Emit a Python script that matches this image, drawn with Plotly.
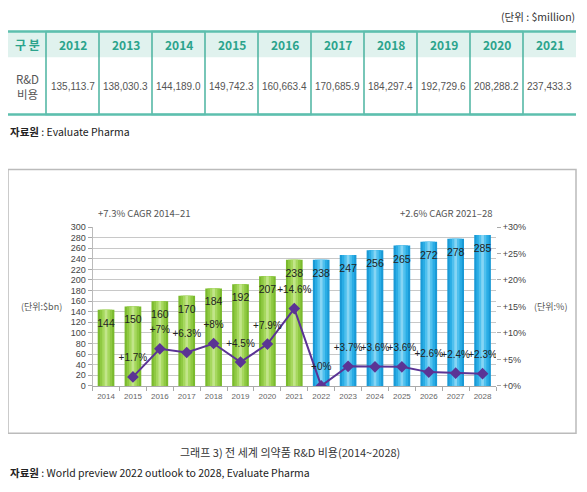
"""
Global pharma R&D spend: table (2012-2021) + bar/line chart (2014-2028)
"""

import plotly.graph_objects as go

# ---- data ----
table_years = ["2012", "2013", "2014", "2015", "2016", "2017", "2018", "2019", "2020", "2021"]
table_rd_million = [135113.7, 138030.3, 144189.0, 149742.3, 160663.4,
                    170685.9, 184297.4, 192729.6, 208288.2, 237433.3]

years = ["2014", "2015", "2016", "2017", "2018", "2019", "2020", "2021",
         "2022", "2023", "2024", "2025", "2026", "2027", "2028"]
rd_spend_bn = [144, 150, 160, 170, 184, 192, 207, 238, 238, 247, 256, 265, 272, 278, 285]
last_actual = "2021"

growth_years = years[1:]
growth_pct = [1.7, 7, 6.3, 8, 4.5, 7.9, 14.6, 0, 3.7, 3.6, 3.6, 2.6, 2.4, 2.3]

pct_ticks = [0, 5, 10, 15, 20, 25, 30]

# page is 587x492, the html body adds an 8px margin round the figure
PAGE_OFF = 8
W, H = 587 - 2 * PAGE_OFF, 492 - 2 * PAGE_OFF
# the page shot comes out a little squeezed vertically, compensate
Y_SCALE, Y_SHIFT = 0.98, 4.6
KR = "Noto Sans CJK KR, Noto Sans, sans-serif"
NUM = "Liberation Sans, Arial, sans-serif"
NARROW = "Liberation Sans Narrow, Arial Narrow, Liberation Sans, sans-serif"
TEAL = "#2ba38c"
TEAL_LINE = "#5dbfae"
PURPLE = "#5b3495"


def px(x):
    return (x - PAGE_OFF) / W


def py(y):
    return 1 - ((y - Y_SHIFT) / Y_SCALE - PAGE_OFF) / H


fig = go.Figure()

# ---- bars (layered for a cylinder look) ----
is_actual = [int(y) <= int(last_actual) for y in years]
green_layers = ["#7aba2d", "#8fc942", "#a6d85e", "#c2e58a"]
blue_layers = ["#1a9ad6", "#2aade5", "#4fc0ee", "#86d5f4"]
widths = [0.62, 0.46, 0.28, 0.1]
for i, w in enumerate(widths):
    fig.add_trace(go.Bar(
        x=years, y=rd_spend_bn, width=w,
        marker=dict(color=[green_layers[i] if a else blue_layers[i] for a in is_actual],
                    line=dict(width=0)),
        hoverinfo="skip" if i else "x+y",
        showlegend=False,
    ))

# bar value labels (invisible marker pushes the text below the bar top)
fig.add_trace(go.Scatter(
    x=years, y=rd_spend_bn, mode="markers+text",
    text=[str(v) for v in rd_spend_bn], textposition="bottom center",
    textfont=dict(size=10.5, color="#222222", family=NUM),
    marker=dict(size=13, opacity=0), hoverinfo="skip", showlegend=False,
))

# ---- growth line ----
fig.add_trace(go.Scatter(
    x=growth_years, y=growth_pct, yaxis="y2",
    mode="lines+markers",
    line=dict(color=PURPLE, width=2),
    marker=dict(symbol="diamond", size=9, color=PURPLE),
    showlegend=False,
))
fig.add_trace(go.Scatter(
    x=growth_years, y=growth_pct, yaxis="y2", mode="markers+text",
    text=[f"+{g:g}%" for g in growth_pct], textposition="top center",
    textfont=dict(size=10, color="#222222", family=NUM),
    marker=dict(size=19, opacity=0), hoverinfo="skip", showlegend=False,
))

annotations = []

# ---- table (header + one data row) ----
col_widths = [38] + [53] * len(table_years)
tbl_left, tbl_top, tbl_mid, tbl_bot = 8, 31, 56.7, 114
edges = [tbl_left]
for cw in col_widths:
    edges.append(edges[-1] + cw)
centers = [(a + b) / 2 for a, b in zip(edges[:-1], edges[1:])]

shapes = [
    dict(type="rect", xref="paper", yref="paper", x0=px(edges[0]), x1=px(edges[-1]),
         y0=py(tbl_mid), y1=py(tbl_top), fillcolor="#e0f2ee", line=dict(width=0), layer="below"),
]
# inner column rules: outlined rects on every other column give all inner verticals
for i in range(1, len(col_widths) - 1, 2):
    shapes.append(dict(type="rect", xref="paper", yref="paper", x0=px(edges[i]), x1=px(edges[i + 1]),
                       y0=py(tbl_bot), y1=py(tbl_top), line=dict(color="#3fae9a", width=1.4)))
for yy in (tbl_top, tbl_bot):
    shapes.append(dict(type="line", xref="paper", yref="paper", x0=px(edges[0]), x1=px(edges[-1]),
                       y0=py(yy), y1=py(yy), line=dict(color=TEAL_LINE, width=2.5)))

header_texts = ["구 분"] + table_years
row_texts = ["R&D<br>비용"] + [f"{v:,.1f}" for v in table_rd_million]
for i, (c, ht, rt) in enumerate(zip(centers, header_texts, row_texts)):
    annotations.append(dict(x=px(c), y=py((tbl_top + tbl_mid) / 2), xref="paper", yref="paper",
                            text=f"<b>{ht}</b>", showarrow=False, xanchor="center", yanchor="middle",
                            font=dict(size=12, color=TEAL, family=KR)))
    annotations.append(dict(x=px(c), y=py((tbl_mid + tbl_bot) / 2 + 1), xref="paper", yref="paper",
                            text=rt, showarrow=False, xanchor="center", yanchor="middle",
                            font=dict(size=11.5 if i == 0 else 10, color="#555555",
                                      family=KR if i == 0 else NARROW)))

# ---- text around the chart ----
texts = [
    ("(단위 : $million)", 577, 16, "right", 10.5, "#333333"),
    ("<b>자료원</b> : Evaluate Pharma", 8, 131, "left", 10.5, "#222222"),
    ("+7.3% CAGR 2014–21", 144, 213, "center", 9.5, "#555555"),
    ("+2.6% CAGR 2021–28", 446, 213, "center", 9.5, "#555555"),
    ("(단위:$bn)", 41, 306, "center", 9, "#555555"),
    ("(단위:%)", 550, 306, "center", 9, "#555555"),
    ("그래프 3) 전 세계 의약품 R&D 비용(2014~2028)", 290, 452, "center", 11, "#333333"),
    ("<b>자료원</b> : World preview 2022 outlook to 2028, Evaluate Pharma", 8, 472, "left", 10.5, "#222222"),
]
for t, tx, ty, anchor, size, color in texts:
    annotations.append(dict(x=px(tx), y=py(ty), xref="paper", yref="paper",
                            xanchor=anchor, yanchor="middle", text=t, showarrow=False,
                            font=dict(size=size, color=color, family=KR)))

# chart frame
shapes.append(dict(type="rect", xref="paper", yref="paper", x0=px(8), x1=px(576),
                   y0=py(433), y1=py(169), line=dict(color="#bbbbbb", width=1.5)))

fig.update_layout(
    width=W, height=H,
    margin=dict(l=0, r=0, t=0, b=0),
    paper_bgcolor="white", plot_bgcolor="white",
    barmode="overlay",
    showlegend=False,
    xaxis=dict(domain=[px(92.6), px(496)], type="category", categoryorder="array",
               categoryarray=years, range=[-0.5, len(years) - 0.5],
               tickson="boundaries", ticks="outside", ticklen=4, tickcolor="#aaaaaa",
               showline=True, linecolor="#aaaaaa", showgrid=False, tickangle=0,
               ticklabelstandoff=3,
               tickfont=dict(size=8, color="#666666", family=NUM)),
    yaxis=dict(domain=[py(385.7), py(226.7)], range=[0, 300], tickvals=list(range(0, 301, 20)),
               ticks="outside", ticklen=4, tickcolor="#aaaaaa",
               showline=True, linecolor="#bbbbbb", gridcolor="#c8c8c8", zeroline=False,
               tickfont=dict(size=9, color="#444444", family=NUM)),
    yaxis2=dict(overlaying="y", side="right", range=[0, 30], tickmode="array",
                tickvals=pct_ticks, ticktext=[f"+{t}%" for t in pct_ticks],
                ticks="outside", ticklen=4, tickcolor="#aaaaaa",
                showgrid=False, zeroline=False, showline=False,
                tickfont=dict(size=9, color="#444444", family=NUM)),
    annotations=annotations,
    shapes=shapes,
)

fig.write_html("out.html")
